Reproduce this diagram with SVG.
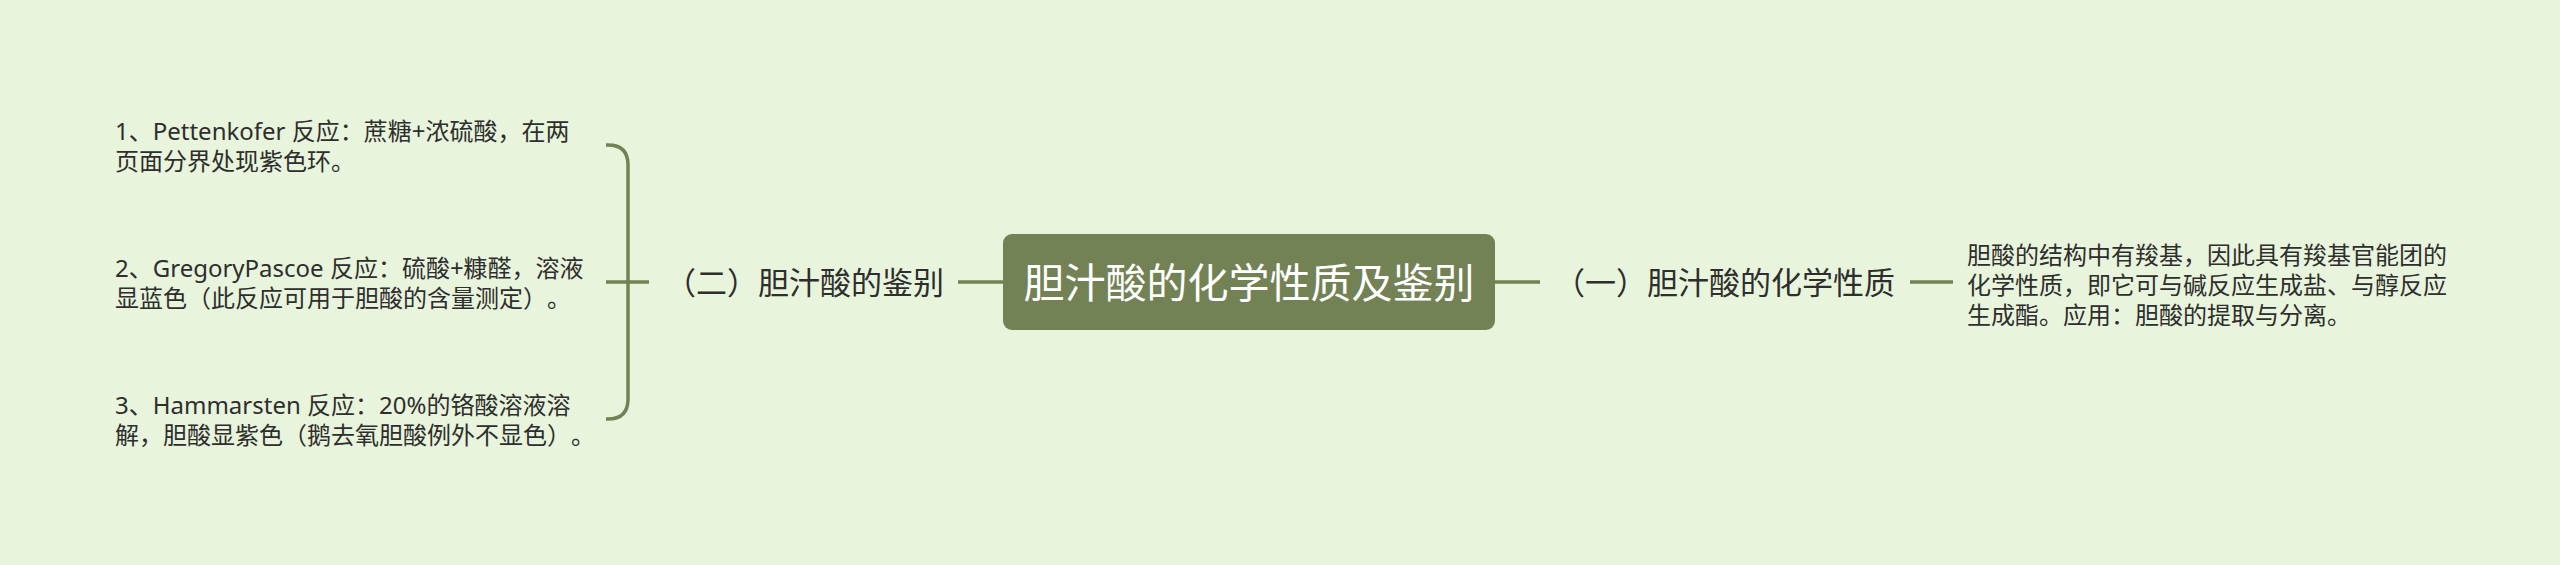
<svg xmlns="http://www.w3.org/2000/svg" width="2560" height="565" viewBox="0 0 2560 565">
<style>
.t{font-family:"Noto Sans","Noto Sans CJK SC",sans-serif;fill:#2e2e2e;text-spacing-trim:space-all}
.s{font-size:24px}
.m{font-size:31px}
.c{font-size:41px;fill:#ffffff;font-family:"Noto Sans CJK SC",sans-serif}
.ln{stroke:#738255;stroke-width:3.5;fill:none;stroke-linecap:butt}
</style>
<rect width="2560" height="565" fill="#e8f4db"/>
<g id="connectors">
<path class="ln" d="M606,145 H608 Q628,145 628,165 V399 Q628,419 608,419 H606"/>
<path class="ln" d="M606,282 H649"/>
<path class="ln" d="M958,282 H1003"/>
<path class="ln" d="M1495,282 H1540"/>
<path class="ln" d="M1910,282 H1953"/>
</g>
<g id="center">
<rect x="1003" y="234" width="492" height="96" rx="9" fill="#738255"/>
<text class="c" x="1249" y="298" text-anchor="middle">胆汁酸的化学性质及鉴别</text>
</g>
<g id="branch-left">
<text class="t m" x="944" y="294" text-anchor="end">（二）胆汁酸的鉴别</text>
</g>
<g id="branch-right">
<text class="t m" x="1554" y="294">（一）胆汁酸的化学性质</text>
</g>
<g id="leaf-1">
<text class="t s" x="115" y="140">1、Pettenkofer 反应：蔗糖+浓硫酸，在两</text>
<text class="t s" x="115" y="170">页面分界处现紫色环。</text>
</g>
<g id="leaf-2">
<text class="t s" x="115" y="277">2、GregoryPascoe 反应：硫酸+糠醛，溶液</text>
<text class="t s" x="115" y="307">显蓝色（此反应可用于胆酸的含量测定）。</text>
</g>
<g id="leaf-3">
<text class="t s" x="115" y="414">3、Hammarsten 反应：20%的铬酸溶液溶</text>
<text class="t s" x="115" y="444">解，胆酸显紫色（鹅去氧胆酸例外不显色）。</text>
</g>
<g id="leaf-right">
<text class="t s" x="1967" y="264">胆酸的结构中有羧基，因此具有羧基官能团的</text>
<text class="t s" x="1967" y="294">化学性质，即它可与碱反应生成盐、与醇反应</text>
<text class="t s" x="1967" y="324">生成酯。应用：胆酸的提取与分离。</text>
</g>
</svg>
